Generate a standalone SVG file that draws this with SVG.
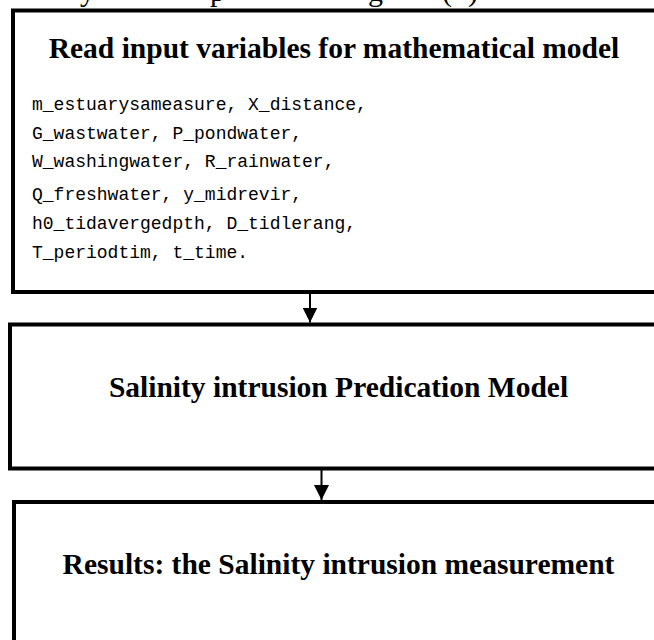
<svg xmlns="http://www.w3.org/2000/svg" width="654" height="640" viewBox="0 0 654 640">
<defs>
<style>
.box{fill:#fff;stroke:#000;stroke-width:4}
.ttl{font-family:"Liberation Serif","Times New Roman",serif;font-weight:bold;font-size:29.5px;fill:#000;text-anchor:middle}
.mono{font-family:"Liberation Mono","Courier New",monospace;font-size:18px;fill:#000}
.cap{font-family:"Liberation Serif","Times New Roman",serif;font-size:30px;fill:#000}
.conn{stroke:#000;stroke-width:2;fill:none}
</style>
<marker id="ah" viewBox="0 0 15 15" refX="15" refY="7.5" markerWidth="15" markerHeight="15" markerUnits="userSpaceOnUse" orient="auto">
<path d="M0,0 L15,7.5 L0,15 Z" fill="#000"/>
</marker>
</defs>
<rect width="654" height="640" fill="#fff"/>
<text class="cap" y="1"><tspan x="80">y</tspan><tspan x="210">p</tspan><tspan x="368">g</tspan><tspan x="442">(</tspan><tspan x="468">)</tspan></text>
<g id="node-input">
<rect class="box" x="13" y="10.5" width="700" height="281.5"/>
<text class="ttl" x="334" y="58">Read input variables for mathematical model</text>
<text class="mono" x="32" y="110">m_estuarysameasure, X_distance,</text>
<text class="mono" x="32" y="139">G_wastwater, P_pondwater,</text>
<text class="mono" x="32" y="167">W_washingwater, R_rainwater,</text>
<text class="mono" x="32" y="200">Q_freshwater, y_midrevir,</text>
<text class="mono" x="32" y="229">h0_tidavergedpth, D_tidlerang,</text>
<text class="mono" x="32" y="258">T_periodtim, t_time.</text>
</g>
<g id="node-model">
<rect class="box" x="10" y="324.5" width="700" height="144"/>
<text class="ttl" x="338.5" y="397">Salinity intrusion Predication Model</text>
</g>
<g id="node-results">
<rect class="box" x="14" y="502" width="700" height="200"/>
<text class="ttl" x="338.5" y="574">Results: the Salinity intrusion measurement</text>
</g>
<g id="connectors">
<line class="conn" x1="310" y1="294" x2="310" y2="322.5" marker-end="url(#ah)"/>
<line class="conn" x1="321.5" y1="470" x2="321.5" y2="500" marker-end="url(#ah)"/>
</g>
</svg>
